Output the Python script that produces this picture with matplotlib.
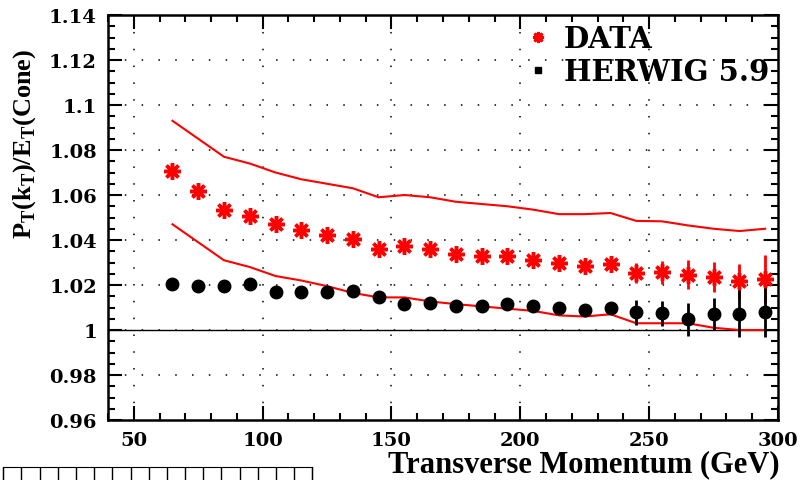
import numpy as np
import matplotlib
matplotlib.use('Agg')
import matplotlib.pyplot as plt
from matplotlib.ticker import MultipleLocator
from matplotlib.lines import Line2D

# Datos
pt = [65, 75, 85, 95, 105, 115, 125, 135, 145, 155, 165, 175,
      185, 195, 205, 215, 225, 235, 245, 255, 265, 275, 285, 295]

data_y = [1.0706, 1.0620, 1.0535, 1.0506, 1.0469, 1.0446, 1.0424, 1.0405,
          1.0362, 1.0372, 1.0360, 1.0340, 1.0330, 1.0330, 1.0313, 1.0298,
          1.0283, 1.0295, 1.0253, 1.0256, 1.0246, 1.0235, 1.0216, 1.0226]
data_err = [0.0015, 0.0012, 0.0012, 0.0013, 0.0013, 0.0015, 0.0015, 0.0016,
            0.0015, 0.0016, 0.0018, 0.0018, 0.0020, 0.0022, 0.0024, 0.0025,
            0.0027, 0.0030, 0.0045, 0.0052, 0.0063, 0.0067, 0.0078, 0.0107]

herwig_y = [1.0204, 1.0197, 1.0194, 1.0206, 1.0167, 1.0167, 1.0167, 1.0172,
            1.0145, 1.0117, 1.0120, 1.0108, 1.0108, 1.0117, 1.0105, 1.0099,
            1.0087, 1.0098, 1.0078, 1.0075, 1.0048, 1.0071, 1.0072, 1.0078]
herwig_err = [0.0008, 0.0008, 0.0010, 0.0010, 0.0012, 0.0012, 0.0012, 0.0013,
              0.0014, 0.0015, 0.0015, 0.0016, 0.0016, 0.0017, 0.0018, 0.0018,
              0.0019, 0.0022, 0.0056, 0.0056, 0.0074, 0.0070, 0.0104, 0.0108]

banda_sup = [1.093, 1.085, 1.077, 1.074, 1.070, 1.067, 1.065, 1.063,
             1.059, 1.060, 1.059, 1.057, 1.056, 1.055, 1.0535, 1.0515,
             1.0515, 1.052, 1.0485, 1.0483, 1.0465, 1.045, 1.044, 1.045]
banda_inf = [1.047, 1.039, 1.031, 1.028, 1.024, 1.022, 1.0195, 1.0165,
             1.0145, 1.0145, 1.0127, 1.0115, 1.0105, 1.0095, 1.0085, 1.0065,
             1.006, 1.007, 1.003, 1.003, 1.003, 1.001, 1.000, 1.000]

x_ticks = [50, 100, 150, 200, 250, 300]
y_ticks = [0.96, 0.98, 1.0, 1.02, 1.04, 1.06, 1.08, 1.1, 1.12, 1.14]
y_labels = ['0.96', '0.98', '1', '1.02', '1.04', '1.06', '1.08', '1.1', '1.12', '1.14']

fuente_num = 'DejaVu Serif'
fuente_txt = 'Liberation Serif'

fig = plt.figure(figsize=(8.05, 4.81), dpi=100)
ax = fig.add_axes([0.1342, 0.1247, 0.8323, 0.842])

# Rejilla punteada
for xv in x_ticks[:-1]:
    ax.axvline(xv, color='black', lw=1.1, ls=(0, (1, 10)), zorder=1)
for yv in y_ticks[1:-1]:
    ax.axhline(yv, color='black', lw=1.1, ls=(0, (1, 10)), zorder=1)
ax.axhline(1.0, color='black', lw=1.0, zorder=1)

# Bandas
ax.plot(pt, banda_sup, color='red', lw=1.5, zorder=2)
ax.plot(pt, banda_inf, color='red', lw=1.5, zorder=2)

# Puntos
ax.errorbar(pt, data_y, yerr=data_err, fmt='none', ecolor='red', elinewidth=2, zorder=3)
ax.plot(pt, data_y, ls='none', marker=(8, 2, 0), ms=12, mew=2.5, color='red', zorder=4)
ax.errorbar(pt, herwig_y, yerr=herwig_err, fmt='none', ecolor='black', elinewidth=2, zorder=3)
ax.plot(pt, herwig_y, ls='none', marker='o', ms=9, color='black', zorder=4)

ax.set_xlim(40, 300)
ax.set_ylim(0.96, 1.14)
ax.xaxis.set_minor_locator(MultipleLocator(10))
ax.yaxis.set_minor_locator(MultipleLocator(0.005))
ax.tick_params(which='both', direction='in', top=True, right=True, width=1.5)
ax.tick_params(which='major', length=10, pad=8)
ax.tick_params(which='minor', length=5)
for s in ax.spines.values():
    s.set_linewidth(1.8)

ax.set_xticks(x_ticks)
ax.set_xticklabels([str(v) for v in x_ticks])
ax.set_yticks(y_ticks)
ax.set_yticklabels(y_labels)
for lab in ax.get_xticklabels() + ax.get_yticklabels():
    lab.set_fontfamily(fuente_num)
    lab.set_fontweight('bold')
    lab.set_fontsize(14)

fig.text(0.969, 0.033, 'Transverse Momentum (GeV)', ha='right', va='center',
         fontfamily=fuente_txt, fontweight='bold', fontsize=22)
fig.text(0.030, 0.70, r'P$_\mathregular{T}$(k$_\mathregular{T}$)/E$_\mathregular{T}$(Cone)',
         rotation=90, ha='center', va='center',
         fontfamily=fuente_txt, fontweight='bold', fontsize=19)

# Leyenda
h1 = Line2D([], [], ls='none', marker=(8, 2, 0), ms=8, mew=2, color='red')
h2 = Line2D([], [], ls='none', marker='s', ms=5, color='black')
leg = ax.legend([h1, h2], ['DATA', 'HERWIG 5.9'], loc='upper right',
                bbox_to_anchor=(1.0, 1.0), frameon=False, handlelength=0.6,
                handletextpad=0.6, labelspacing=0.15, borderpad=0.2, borderaxespad=0.1,
                prop={'family': fuente_num, 'weight': 'bold', 'size': 21})

# Regla decorativa abajo a la izquierda
axr = fig.add_axes([0.004, 0.0, 0.384, 0.027])
axr.set_xlim(0, 17)
axr.set_ylim(0, 1)
axr.set_xticks(range(18))
axr.set_yticks([])
axr.tick_params(axis='x', direction='in', length=14, width=1, labelbottom=False, bottom=False, top=True)
axr.spines['bottom'].set_visible(False)

fig.savefig('out.png', dpi=100)
